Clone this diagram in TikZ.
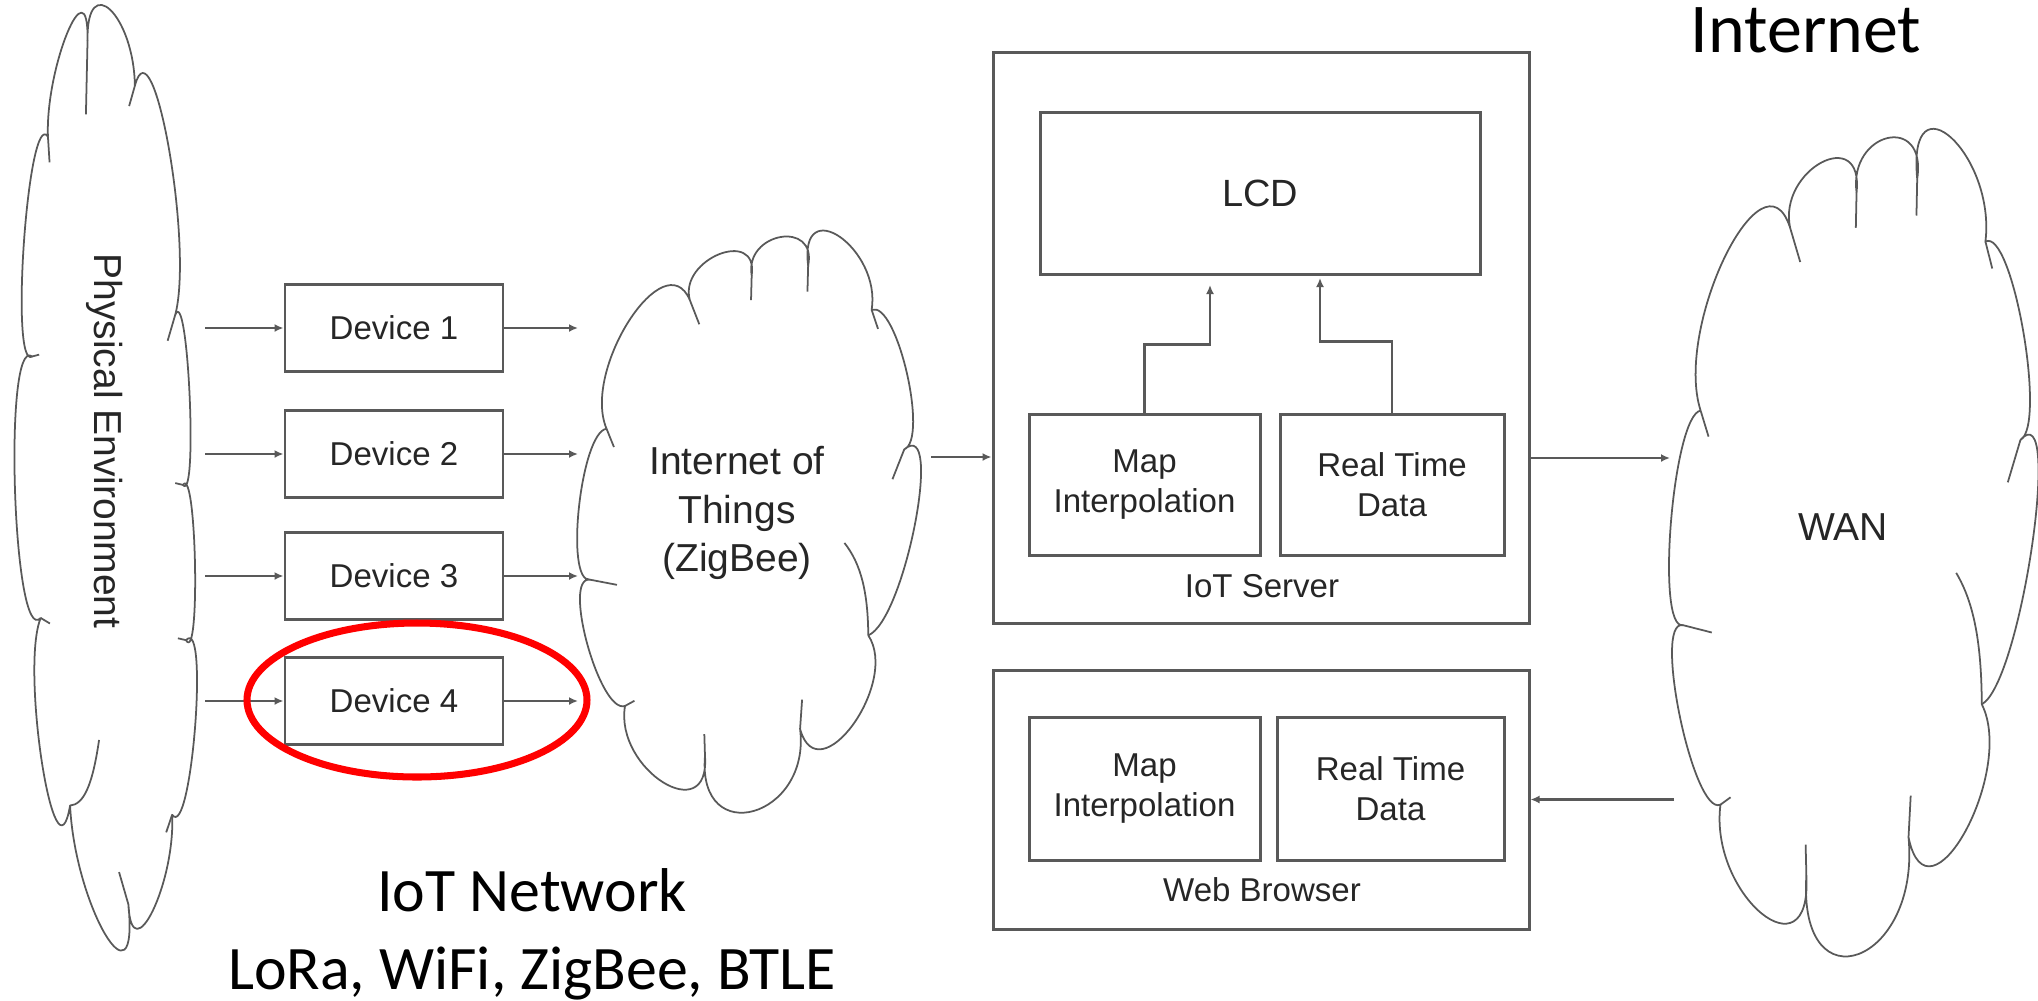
\documentclass[tikz,border=0pt]{standalone}
\usepackage{fontspec}
\setmainfont{Liberation Sans}
\newfontfamily\calfont{Carlito}
\usetikzlibrary{arrows.meta}
\colorlet{lcol}{black!65}
\colorlet{tcol}{black!85}
\definecolor{colRing}{rgb}{1,0,0}
\tikzstyle{box}=[draw=lcol, line width=0.85pt, text=tcol, font=\fontsize{9.4}{11.4}\selectfont, align=center, inner sep=0pt]
\tikzstyle{lbl}=[text=tcol, font=\fontsize{9.4}{11.4}\selectfont, inner sep=0pt]
\tikzstyle{cloudtxt}=[lbl, font=\fontsize{11.1}{13.7}\selectfont, align=center]
\tikzstyle{cloudline}=[draw=lcol, line width=0.5pt, line join=round]
\tikzstyle{arr}=[line width=0.6pt, lcol, -{Latex[length=0.9mm,width=0.8mm]}]
\tikzstyle{ring}=[line width=2pt, colRing]
\tikzstyle{slide}=[font=\calfont\fontsize{17.6}{22}\selectfont, inner sep=0pt, anchor=base]
% cloud outline in a unit box, scaled by the scope round it
\newcommand{\puffpath}{%
	\draw[cloudline] (0.082,0.334)
		.. controls (0.0073,0.2313) and (0.2553,0.0073) .. (0.330,0.110)
		.. controls (0.2957,0.0385) and (0.5349,-0.0175) .. (0.514,0.067)
		.. controls (0.4915,-0.0084) and (0.7099,-0.0306) .. (0.682,0.050)
		.. controls (0.6543,-0.0796) and (0.9001,0.0206) .. (0.871,0.127)
		.. controls (0.945,0.109) and (1.042,0.352) .. (0.968,0.370)
		.. controls (1.0874,0.3111) and (0.9696,0.6675) .. (0.861,0.694)
		.. controls (0.9553,0.777) and (0.7117,0.9726) .. (0.658,0.857)
		.. controls (0.691,1.0116) and (0.3514,1.068) .. (0.375,0.904)
		.. controls (0.3908,1.032) and (0.1052,0.9276) .. (0.137,0.817)
		.. controls (0.0622,0.832) and (-0.0522,0.590) .. (0.033,0.597)
		.. controls (-0.0437,0.603) and (0.0053,0.340) .. (0.082,0.334);
	\draw[cloudline] (0.082,0.334) -- (0.104,0.366) (0.330,0.110) -- (0.358,0.152)
		(0.514,0.067) -- (0.512,0.110) (0.682,0.050) -- (0.680,0.095)
		(0.871,0.127) -- (0.890,0.160) (0.968,0.370) -- (0.933,0.422)
		(0.861,0.694) .. controls (0.860,0.620) and (0.840,0.570) .. (0.790,0.533)
		(0.658,0.857) -- (0.664,0.806) (0.375,0.904) -- (0.373,0.866)
		(0.137,0.817) -- (0.165,0.808) (0.033,0.597) -- (0.113,0.606);
}

\begin{document}
\begin{tikzpicture}[x=0.1mm,y=-0.1mm]
	\useasboundingbox (0,0) rectangle (2038,1000);
	% physical side and devices
	\begin{scope}[shift={(195,10)}, rotate=-90, xscale=924, yscale=180]
		\puffpath
	\end{scope}
	\node[cloudtxt, rotate=-90] (penv) at (105,441) {Physical Environment};
	\foreach \i/\y in {1/328,2/454,3/576,4/701} {
		\node[box, minimum width=21.8mm, minimum height=8.7mm] (dev\i) at (394,\y) {Device \i};
		\coordinate (src\i) at (205,\y);
		\coordinate (dst\i) at (578,\y);
		\draw[arr] (src\i) -- (dev\i);
		\draw[arr] (dev\i) -- (dst\i);
	}
	\draw[ring] (417,700) ellipse [x radius=17mm, y radius=7.7mm];
	\begin{scope}[shift={(579,237)}, xscale=336, yscale=574]
		\puffpath
	\end{scope}
	\node[cloudtxt] (iot) at (737,513) {Internet of\\Things\\(ZigBee)};
	% server
	\node[box, minimum width=53.6mm, minimum height=57.1mm] (srv) at (1261,337.5) {};
	\node[box, minimum width=44mm, minimum height=16.2mm, font=\fontsize{10.8}{13}\selectfont] (lcd) at (1260,193) {LCD};
	\node[box, minimum width=23.1mm, minimum height=14.1mm] (smap) at (1144.5,484.5) {Map\\Interpolation};
	\node[box, minimum width=22.4mm, minimum height=14.1mm] (srt) at (1392,484.5) {Real Time\\Data};
	\node[lbl] (srvlbl) at (1262,586) {IoT Server};
	\coordinate (lcdin1) at (1210,285);
	\coordinate (lcdin2) at (1320,278);
	\draw[arr] (smap.north) -- ++(0,-68) -| (lcdin1);
	\draw[arr] (srt.north) -- ++(0,-71) -| (lcdin2);
	% browser
	\node[box, minimum width=53.6mm, minimum height=25.9mm] (web) at (1261,799.5) {};
	\node[box, minimum width=23.1mm, minimum height=14.3mm] (bmap) at (1144.5,788.5) {Map\\Interpolation};
	\node[box, minimum width=22.7mm, minimum height=14.3mm] (brt) at (1390.5,788.5) {Real Time\\Data};
	\node[lbl] (weblbl) at (1262,890) {Web Browser};
	% wan
	\begin{scope}[shift={(1671,138)}, xscale=361, yscale=816]
		\puffpath
	\end{scope}
	\node[cloudtxt] (wan) at (1843,527) {WAN};
	\coordinate (iotout) at (931,457);
	\coordinate (wanin) at (1670,458);
	\coordinate (wanout) at (1674,799.5);
	\draw[arr] (iotout) -- (iotout -| srv.west);
	\draw[arr] (wanin -| srv.east) -- (wanin);
	\draw[arr] (wanout) -- (web.east);
	% slide text
	\node[slide, font=\calfont\fontsize{19.9}{24}\selectfont] (inet) at (1806,52) {Internet};
	\node[slide] (iotnet) at (532,911) {IoT Network};
	\node[slide] (proto) at (532,989) {LoRa, WiFi, ZigBee, BTLE};
\end{tikzpicture}
\end{document}
